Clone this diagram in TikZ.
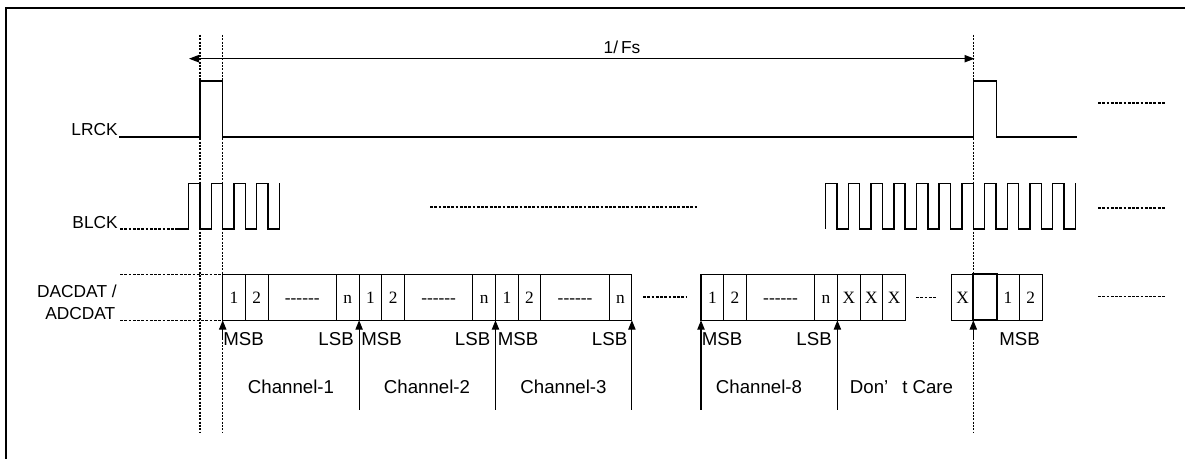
\documentclass[tikz,border=0pt]{standalone}
\usepackage{fontspec}
\setmainfont{Liberation Sans}
\newfontfamily\cellfont{Liberation Serif}
\usetikzlibrary{arrows.meta}
\tikzset{
  sig/.style={line width=1.1pt, line join=miter},
  cellbox/.style={line width=0.8pt},
  vdash/.style={line width=0.9pt, dash pattern=on 1.6pt off 0.9pt},
  hdots/.style={line width=1pt, dash pattern=on 2.1pt off 1.1pt},
  lbl/.style={font=\fontsize{13}{15}\selectfont, inner sep=0pt},
  blbl/.style={font=\fontsize{14}{16}\selectfont, inner sep=0pt},
  celltxt/.style={font=\cellfont\fontsize{13}{15}\selectfont, inner sep=0pt, anchor=base},
  upar/.style={line width=0.8pt, -{Triangle[length=7pt,width=5.5pt]}},
  fsar/.style={line width=0.8pt, {Triangle[length=7.5pt,width=5.5pt]}-{Triangle[length=7.5pt,width=5.5pt]}}
}
\begin{document}
\begin{tikzpicture}[x=0.75pt,y=-0.75pt]
\useasboundingbox (0,0) rectangle (1185,459);
% frame
\draw[line width=1pt] (6,459) -- (6,8) -- (1185,8);

% dashed vertical markers
\foreach \x/\n in {200/vA,222.7/vB,973.3/vC}{
  \coordinate (\n top) at (\x,35);
  \coordinate (\n bot) at (\x,433);
  \draw[vdash] (\n top) -- (\n bot);
}

% 1/Fs arrow
\coordinate (fsL) at (189,58.7);
\coordinate (fsR) at (974.5,58.7);
\draw[fsar] (fsL) -- (fsR);
\node[lbl, anchor=base] (fs) at (622,54) {1/\,Fs};

% signal labels
\node[lbl, anchor=base east] (lrck) at (118,136) {LRCK};
\node[lbl, anchor=base east] (blck) at (118,228.5) {BLCK};
\node[lbl, anchor=base east] (dac) at (117,297.3) {DACDAT /};
\node[lbl, anchor=base east] (adc) at (115.5,319.3) {ADCDAT};

% LRCK waveform
\draw[sig] (119,137) -- (200,137) -- (200,81) -- (222.7,81) -- (222.7,137)
  -- (973.3,137) -- (973.3,81) -- (996.7,81) -- (996.7,137) -- (1077,137);

% BLCK waveform (left)
\draw[hdots] (120,229) -- (177,229);
\draw[sig] (177,229) -| (188.65,183.3) -| (200,229) -| (211.35,183.3) -| (222.7,229)
  -| (234.05,183.3) -| (245.4,229) -| (256.75,183.3) -| (268.1,229) -| (279.45,183.3);
% BLCK middle dots
\draw[hdots] (430,207) -- (697,207);
% BLCK waveform (right)
\draw[sig] (825.7,229) foreach \k in {0,...,10}{ -- ++(0,-45.7) -- ++(11.35,0) -- ++(0,45.7) -- ++(11.35,0)} -- ++(0,-45.7);

% right continuation dots
\draw[hdots] (1098,103) -- (1166,103);
\draw[hdots] (1098,208) -- (1166,208);
\draw[hdots] (1098,296.7) -- (1166,296.7);

% DACDAT left guide dots
\draw[hdots] (120,274.3) -- (222.7,274.3);
\draw[hdots] (120,320.3) -- (222.7,320.3);

% channel word groups
\foreach \s in {222.7,359.1,495.5,701}{
  \draw[cellbox] (\s,274.3) rectangle ++(136.4,46);
  \draw[cellbox] (\s+22.7,274.3) -- ++(0,46);
  \draw[cellbox] (\s+45.4,274.3) -- ++(0,46);
  \draw[cellbox] (\s+113.7,274.3) -- ++(0,46);
  \node[celltxt] at (\s+11.35,303.3) {1};
  \node[celltxt] at (\s+34.05,303.3) {2};
  \node[celltxt] at (\s+79.55,303.3) {------};
  \node[celltxt] at (\s+125.05,303.3) {n};
}
% middle dots in data row
\draw[hdots] (643,297) -- (687,297);
% don't care cells
\draw[cellbox] (837.4,274.3) rectangle (905.5,320.3);
\draw[cellbox] (860.1,274.3) -- (860.1,320.3);
\draw[cellbox] (882.8,274.3) -- (882.8,320.3);
\foreach \c in {848.75,871.45,894.15}{\node[celltxt] at (\c,303.3) {X};}
\draw[hdots] (916,297.3) -- (937,297.3);
% next frame cells
\draw[cellbox] (951.7,274.3) rectangle (1042.1,320.3);
\draw[cellbox] (1019.4,274.3) -- (1019.4,320.3);
\draw[line width=1.5pt] (973.3,274.3) rectangle (996.7,320.3);
\node[celltxt] at (962.5,303.3) {X};
\node[celltxt] at (1008.05,303.3) {1};
\node[celltxt] at (1030.75,303.3) {2};

% arrows up to boundaries
\foreach \x/\n in {359.1/a2,495.5/a3,631.9/a4,701/a8,837.4/adc}{
  \coordinate (\n b) at (\x,410);
  \coordinate (\n t) at (\x,320.3);
  \draw[upar] (\n b) -- (\n t);
}
\coordinate (a1b) at (222.7,340);
\coordinate (a1t) at (222.7,320.3);
\draw[upar] (a1b) -- (a1t);
\coordinate (anb) at (973.3,340);
\coordinate (ant) at (973.3,320.3);
\draw[upar] (anb) -- (ant);

% MSB / LSB labels
\node[blbl, anchor=base west] (m1) at (223,346) {MSB};
\node[blbl, anchor=base east] (l1) at (354,346) {LSB};
\node[blbl, anchor=base west] (m2) at (361,346) {MSB};
\node[blbl, anchor=base east] (l2) at (490.5,346) {LSB};
\node[blbl, anchor=base west] (m3) at (497.5,346) {MSB};
\node[blbl, anchor=base east] (l3) at (627.5,346) {LSB};
\node[blbl, anchor=base west] (m8) at (701.5,346) {MSB};
\node[blbl, anchor=base east] (l8) at (832,346) {LSB};
\node[blbl, anchor=base west] (mn) at (999,346) {MSB};

% channel labels
\node[blbl, anchor=base] (c1) at (291,393) {Channel-1};
\node[blbl, anchor=base] (c2) at (427,393) {Channel-2};
\node[blbl, anchor=base] (c3) at (563.5,393) {Channel-3};
\node[blbl, anchor=base] (c8) at (759,393) {Channel-8};
\node[blbl, anchor=base] (dc) at (901.5,393) {Don’\hspace{0.75em}t Care};
\end{tikzpicture}
\end{document}
